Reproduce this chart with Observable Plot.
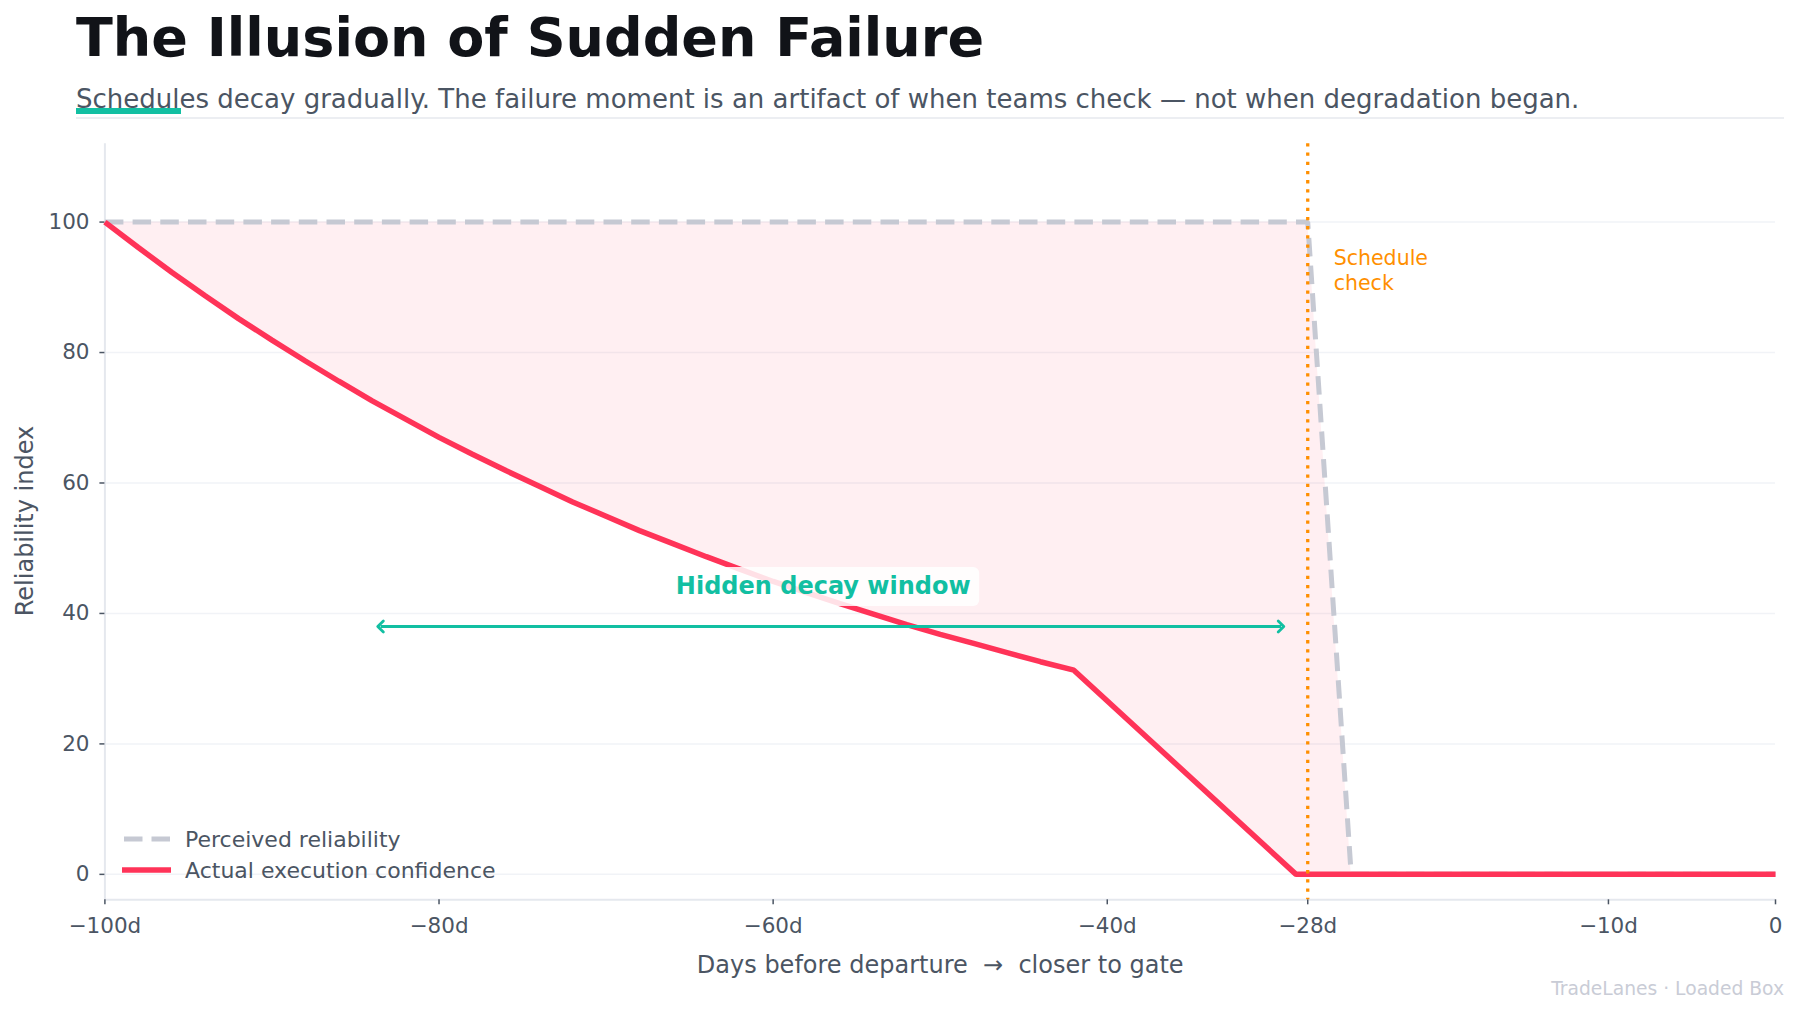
<!DOCTYPE html>
<html><head><meta charset="utf-8">
<script src="https://cdn.jsdelivr.net/npm/d3@7"></script>
<script src="https://cdn.jsdelivr.net/npm/@observablehq/plot@0.6"></script>
<style>
html,body{margin:0;padding:0;background:#fff;}
body{width:1799px;height:1013px;position:relative;overflow:hidden;font-family:"DejaVu Sans",sans-serif;}
#title{position:absolute;left:76px;top:11px;font-size:54px;font-weight:bold;color:#111318;line-height:1;white-space:nowrap;}
#subtitle{position:absolute;left:76px;top:85.6px;font-size:26px;color:#4b5563;line-height:1;white-space:nowrap;}
#accent{position:absolute;left:76px;top:108px;width:105px;height:6px;background:#12bfa2;}
#rule{position:absolute;left:76px;top:117px;width:1708px;height:2px;background:#eceef2;}
#chart{position:absolute;left:0;top:120px;}
#caption{position:absolute;right:15px;top:980px;font-size:18.7px;color:#c9ccd6;line-height:1;white-space:nowrap;}
#ylabel{position:absolute;left:25px;top:521.3px;transform:translate(-50%,-50%) rotate(-90deg);font-size:24px;color:#4b5563;line-height:1;white-space:nowrap;}
.lg{position:absolute;left:122px;height:30px;display:flex;align-items:center;font-size:22px;color:#4b5563;white-space:nowrap;}
.lg svg{margin-right:13px;}
</style>
</head>
<body>
<div id="title">The Illusion of Sudden Failure</div>
<div id="subtitle">Schedules decay gradually. The failure moment is an artifact of when teams check — not when degradation began.</div>
<div id="accent"></div>
<div id="rule"></div>
<div id="chart"></div>
<div id="ylabel">Reliability index</div>
<div class="lg" style="top:824px"><svg width="50" height="10"><line x1="2" x2="48" y1="5" y2="5" stroke="#c6c9d3" stroke-width="5" stroke-dasharray="18.5 9"/></svg><span>Perceived reliability</span></div>
<div class="lg" style="top:855px"><svg width="50" height="10"><line x1="0" x2="49" y1="5" y2="5" stroke="#ff3358" stroke-width="5.5"/></svg><span>Actual execution confidence</span></div>
<div id="caption">TradeLanes · Loaded Box</div>
<script>
// ---- data ----
const actualDays = [-100,-98,-96,-94,-92,-90,-88,-86,-84,-82,-80,-78,-76,-74,-72,-70,-68,-66,-64,-62,-60,-58,-56,-54,-52,-50,-48,-46,-44,-42,-28.7,0];
const actualValues = [100,96.1,92.3,88.7,85.2,81.9,78.7,75.6,72.6,69.8,67.0,64.4,61.9,59.5,57.1,54.9,52.7,50.7,48.7,46.8,44.9,43.2,41.5,39.9,38.3,36.8,35.4,34.0,32.6,31.3,0,0];
const perceivedDays = [-100,-28,-25.4,0];
const perceivedValues = [100,100,0,0];
const checkDay = -28;
const checkLabel = "Schedule\ncheck";
const windowStart = -83.5, windowEnd = -29.6, windowLevel = 38;
const windowLabel = "Hidden decay window";
const windowLabelDay = -57, windowLabelLevel = 44.1;
const xTicks = [-100,-80,-60,-40,-28,-10,0];
const xTickLabels = ["\u2212100d","\u221280d","\u221260d","\u221240d","\u221228d","\u221210d","0"];
const yTicks = [0,20,40,60,80,100];
const xDomain = [-100, 0];
const yDomain = [-3.9, 112];

// ---- build tables ----
const actual = actualDays.map((d,i)=>({day:d, v:actualValues[i]}));
const perceived = perceivedDays.map((d,i)=>({day:d, v:perceivedValues[i]}));
function interp(xs, ys, x){
  for(let i=0;i<xs.length-1;i++){
    if(x>=xs[i] && x<=xs[i+1]){const t=(x-xs[i])/(xs[i+1]-xs[i]); return ys[i]+t*(ys[i+1]-ys[i]);}
  }
  return ys[ys.length-1];
}
const dropEnd = perceivedDays[perceivedValues.indexOf(0)];
const fillDays = Array.from(new Set([...actualDays, ...perceivedDays])).filter(d=>d<=dropEnd).sort((a,b)=>a-b);
const fillRows = fillDays.map(d=>({day:d, lo:interp(actualDays,actualValues,d), hi:interp(perceivedDays,perceivedValues,d)}));

const RED="#ff3358", GRAY="#c6c9d3", ORANGE="#ff8f00", TEAL="#12bfa2", INK="#4b5563";

const chart = Plot.plot({
  width:1799, height:893,
  marginLeft:104.4, marginRight:24, marginTop:23.3, marginBottom:113.7,
  style:{fontFamily:"DejaVu Sans", fontSize:"21.5px", color:INK, background:"transparent", overflow:"visible"},
  x:{domain:xDomain, label:null},
  y:{domain:yDomain, label:null},
  marks:[
    Plot.ruleY(yTicks, {stroke:"#f1f3f7", strokeWidth:1.5}),
    Plot.ruleX([xDomain[0]], {stroke:"#e5e8ee", strokeWidth:2}),
    Plot.ruleY([yDomain[0]], {stroke:"#e5e8ee", strokeWidth:2}),
    Plot.axisX(xTicks, {tickFormat:d=>xTickLabels[xTicks.indexOf(d)], tickSize:5, tickPadding:12.5, strokeWidth:1.5, label:null, fontSize:21.5}),
    Plot.axisY(yTicks, {tickSize:5, tickPadding:10.4, strokeWidth:1.5, label:null, fontSize:21.5}),
    Plot.areaY(fillRows, {x:"day", y1:"lo", y2:"hi", fill:RED, fillOpacity:0.08}),
    Plot.line(perceived, {x:"day", y:"v", stroke:GRAY, strokeWidth:5, strokeDasharray:"18.5 9.2", strokeLinecap:"butt", strokeLinejoin:"miter"}),
    Plot.line(actual, {x:"day", y:"v", stroke:RED, strokeWidth:5.5, strokeLinecap:"butt", strokeLinejoin:"miter"}),
    Plot.ruleX([checkDay], {stroke:ORANGE, strokeWidth:3.3, strokeDasharray:"3.3 5.9"}),
    Plot.text([{day:checkDay, v:perceivedValues[0], t:checkLabel}], {x:"day", y:"v", text:"t", dx:26, dy:25.2, textAnchor:"start", lineAnchor:"top", lineHeight:1.22, fill:ORANGE, fontSize:20.5}),
    Plot.link([{a:windowStart, b:windowEnd, v:windowLevel}], {x1:"a", x2:"b", y1:"v", y2:"v", stroke:TEAL, strokeWidth:2.8, markerStart:"arrow-reverse", markerEnd:"arrow"}),
    Plot.text([{day:windowLabelDay, v:windowLabelLevel, t:windowLabel}], {x:"day", y:"v", text:"t", fill:TEAL, fontSize:24, fontWeight:"bold"}),
    Plot.text(["Days before departure \u00a0\u2192\u00a0 closer to gate"], {text:d=>d, frameAnchor:"bottom", dy:72.7, fontSize:24, fill:INK})
  ]
});
document.getElementById("chart").append(chart);

// white rounded box behind the decay label
for (const t of chart.querySelectorAll("text")) {
  if (t.textContent === windowLabel) {
    const bb = t.getBBox();
    const r = document.createElementNS("http://www.w3.org/2000/svg","rect");
    r.setAttribute("x", bb.x-8.5); r.setAttribute("y", bb.y-5.5);
    r.setAttribute("width", bb.width+17); r.setAttribute("height", bb.height+11);
    r.setAttribute("rx", 6); r.setAttribute("fill", "#ffffff"); r.setAttribute("fill-opacity", 0.85);
    r.setAttribute("stroke", "none");
    const tr = t.getAttribute("transform"); if (tr) r.setAttribute("transform", tr);
    t.parentNode.insertBefore(r, t);
  }
}
</script>
</body></html>
